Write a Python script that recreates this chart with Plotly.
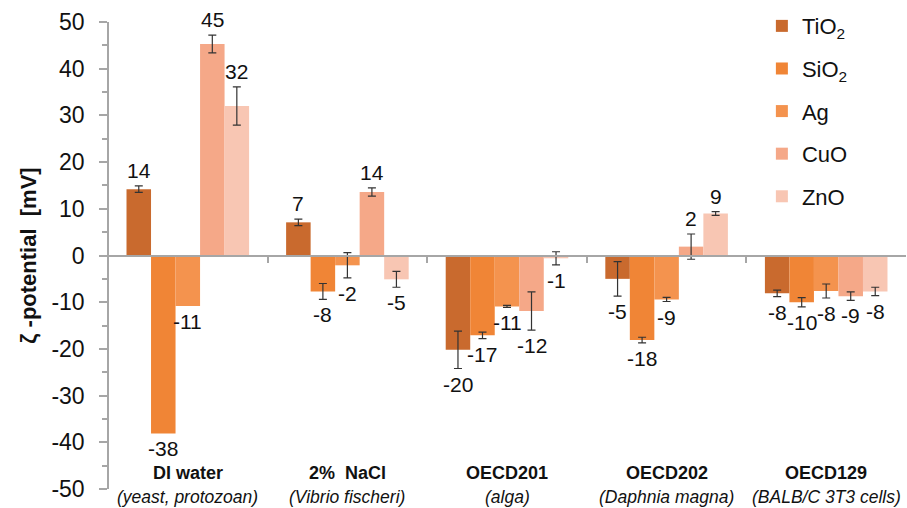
import plotly.graph_objects as go

categories = ["DI water", "2%  NaCl", "OECD201", "OECD202", "OECD129"]
subtitles = ["(yeast, protozoan)", "(Vibrio fischeri)", "(alga)", "(Daphnia magna)", "(BALB/C 3T3 cells)"]
materials = ["TiO<sub>2</sub>", "SiO<sub>2</sub>", "Ag", "CuO", "ZnO"]
colors = ["#C96A2E", "#F08536", "#F4934E", "#F5A888", "#F8C6B3"]
y_ticks = [-50, -40, -30, -20, -10, 0, 10, 20, 30, 40, 50]
y_tick_text = ["-50", "-40", "-30", "-20", "-10", "0", "10", "20", "30", "40", "50"]

tio2 = [14.2, 7.1, -20.2, -5.0, -8.1]
sio2 = [-38.1, -7.7, -17.1, -18.1, -10.0]
ag = [-10.8, -2.1, -10.9, -9.4, -7.6]
cuo = [45.3, 13.6, -11.9, 1.9, -8.7]
zno = [32.0, -5.1, -0.6, 9.0, -7.7]

tio2_err = [0.7, 0.7, 4.0, 3.7, 0.7]
sio2_err = [None, 1.7, 0.7, 0.6, 1.0]
ag_err = [None, 2.7, 0.2, 0.45, 1.5]
cuo_err = [1.9, 0.9, 4.1, 2.7, 0.9]
zno_err = [4.1, 1.7, 1.4, 0.4, 0.9]

values = [tio2, sio2, ag, cuo, zno]
errors = [tio2_err, sio2_err, ag_err, cuo_err, zno_err]

W, H = 907, 508
n_series = len(materials)
group_fill = 0.768
bw = group_fill / n_series
font_family = "Arial, 'Liberation Sans', sans-serif"
axis_color = "#A6A6A6"
text_color = "#111111"

y_min, y_max = y_ticks[0], y_ticks[-1]

fig = go.Figure()
for i, (name, vals, errs, col) in enumerate(zip(materials, values, errors, colors)):
    xs = [g + (i - (n_series - 1) / 2) * bw for g in range(len(categories))]
    fig.add_trace(go.Bar(
        x=xs, y=vals, width=bw, name=name, marker=dict(color=col, line=dict(width=0)),
        legendgroup=f"g{i}", hoverinfo="y",
    ))
    # error bars only where the reference shows them
    ex = [x for x, e in zip(xs, errs) if e is not None]
    ey = [v for v, e in zip(vals, errs) if e is not None]
    ee = [e for e in errs if e is not None]
    fig.add_trace(go.Scatter(
        x=ex, y=ey, mode="markers", marker=dict(size=1, opacity=0),
        showlegend=False, hoverinfo="skip", legendgroup=f"g{i}",
        error_y=dict(type="data", array=ee, visible=True,
                     color="#333333", thickness=1.2, width=4),
    ))
    for x, v, e in zip(xs, vals, errs):
        e = e or 0
        pos = v >= 0
        fig.add_annotation(
            x=x, y=(v + e) if pos else (v - e), xref="x", yref="y",
            text=f"{round(v):d}", showarrow=False,
            yanchor="bottom" if pos else "top", yshift=2 if pos else -2,
            font=dict(size=21, color=text_color, family=font_family),
        )

for g, (c, s) in enumerate(zip(categories, subtitles)):
    fig.add_annotation(x=g, y=y_min, xref="x", yref="y", yanchor="middle", yshift=16,
                       text=f"<b>{c}</b>", showarrow=False,
                       font=dict(size=18, color=text_color, family=font_family))
    fig.add_annotation(x=g, y=y_min, xref="x", yref="y", yanchor="middle", yshift=-8,
                       text=f"<i>{s}</i>", showarrow=False,
                       font=dict(size=17.5, color=text_color, family=font_family))

fig.update_layout(
    width=W, height=H,
    margin=dict(l=108, r=1, t=22, b=19, autoexpand=False),
    paper_bgcolor="white", plot_bgcolor="white",
    barmode="overlay",
    font=dict(family=font_family, color=text_color),
    showlegend=True,
    legend=dict(xref="container", yref="container", x=0.840, y=0.99,
                xanchor="left", yanchor="top",
                font=dict(size=22, color=text_color), tracegroupgap=11,
                traceorder="grouped", bgcolor="rgba(255,255,255,0)"),
    xaxis=dict(range=[-0.5, len(categories) - 0.5], anchor="free", position=0.5,
               automargin=False,
               showline=True, linecolor=axis_color, linewidth=1.5,
               tickvals=[g + 0.5 for g in range(len(categories) - 1)],
               ticks="outside", ticklen=7, tickcolor=axis_color, tickwidth=1.5,
               showticklabels=False, showgrid=False, zeroline=False),
    yaxis=dict(range=[y_min, y_max], automargin=False,
               tickvals=y_ticks, ticktext=y_tick_text,
               anchor="free", position=0,
               showline=True, linecolor=axis_color, linewidth=1.5,
               ticks="outside", ticklen=8, tickcolor=axis_color, tickwidth=1.5,
               minor=dict(dtick=5, tick0=0, ticks="outside", ticklen=5, tickcolor=axis_color, tickwidth=1.5),
               tickfont=dict(size=23, color=text_color), ticklabelstandoff=10,
               showgrid=False, zeroline=False,
               title=dict(text="<b>ζ -potential  [mV]</b>", font=dict(size=22, color=text_color),
                          standoff=8)),
)

fig.write_html("out.html", config={"displayModeBar": False},
               post_script="document.body.style.margin='0px';")
